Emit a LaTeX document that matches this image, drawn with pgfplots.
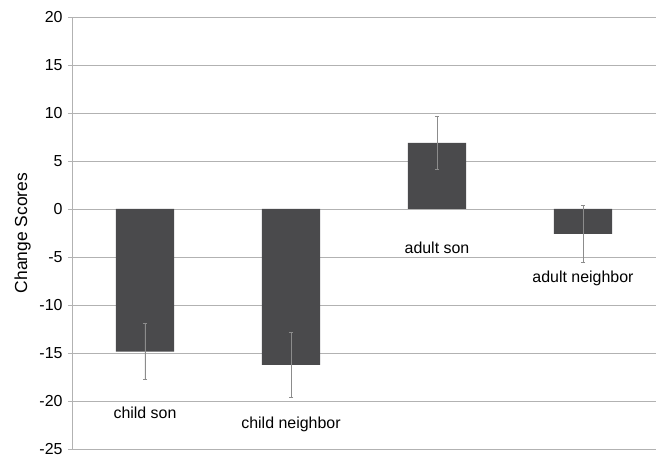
\documentclass[border=0pt]{standalone}
\usepackage{pgfplots}
\pgfplotsset{compat=1.18}
\usepackage{fontspec}
\setmainfont{Liberation Sans}
\definecolor{barc}{RGB}{74,74,76}
\definecolor{errc}{RGB}{140,140,140}
\definecolor{gridc}{RGB}{178,178,178}
\begin{document}
\fontsize{16}{19}\selectfont
\begin{tikzpicture}
\begin{axis}[
  scale only axis,
  width=584bp, height=432bp,
  xmin=-0.5, xmax=3.5,
  ymin=-25, ymax=20,
  ytick={-25,-20,...,20},
  axis x line=none,
  axis y line*=left,
  y axis line style={-, draw=gridc, line width=0.6pt},
  ymajorgrids,
  grid style={gridc, line width=0.6pt},
  tick align=outside,
  major tick length=4bp,
  ytick style={draw=gridc, line width=0.6pt},
  yticklabel style={font=\fontsize{16}{19}\selectfont, xshift=0bp},
  /pgf/number format/assume math mode=true,
  ylabel={Change Scores},
  ylabel style={font=\fontsize{17.5}{20}\selectfont, yshift=-2bp},
  clip=false,
]
\addplot[ybar, bar width=0.4, fill=barc, draw=none,
  error bars/.cd, y dir=both, y explicit,
  error bar style={errc, line width=0.8pt},
  error mark options={rotate=90, mark size=2.2bp, errc, line width=0.8pt}]
  coordinates {
  (0,-14.85) +- (0,2.9)
  (1,-16.25) +- (0,3.4)
  (2,6.9) +- (0,2.76)
  (3,-2.6) +- (0,2.95)
  };
\node[font=\fontsize{16}{19}\selectfont] at (axis cs:0,-21.25) {child son};
\node[font=\fontsize{16}{19}\selectfont] at (axis cs:1,-22.4) {child neighbor};
\node[font=\fontsize{16}{19}\selectfont] at (axis cs:2,-4.06) {adult son};
\node[font=\fontsize{16}{19}\selectfont] at (axis cs:3,-7.2) {adult neighbor};
\end{axis}
\pgfresetboundingbox
\path (current axis.south west) ++(-72bp,-8bp) coordinate (bl);
\path (current axis.north east) ++(2bp,17bp) coordinate (tr);
\path[use as bounding box] (bl) rectangle (tr);
\end{tikzpicture}
\end{document}
